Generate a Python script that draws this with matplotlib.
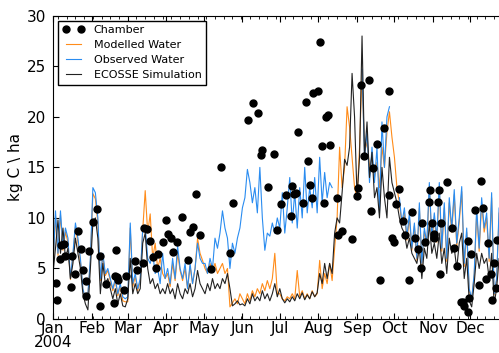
import numpy as np
import pandas as pd
import matplotlib
matplotlib.use("Agg")
import matplotlib.pyplot as plt
import matplotlib.dates as mdates

# model output every second day through 2004
dates = pd.date_range("2004-01-01", periods=183, freq="2D")

nan = np.nan

# ECOSSE simulation (kg C / ha)
ecosse = [
    # Jan
    4.5, 7.0, 9.8, 6.5, 9.0, 6.0, 7.0, 4.0, 5.5, 8.0, 6.5, 5.0, 2.5, 1.5, 0.9, 5.0,
    # Feb
    9.5, 10.0, 8.0, 2.5, 5.5, 3.5, 4.0, 3.0, 2.0, 3.0, 1.5, 2.5, 1.3, 1.2,
    # Mar
    2.0, 6.0, 2.5, 3.5, 2.5, 3.0, 7.5, 8.5, 5.0, 3.5, 4.0, 3.0, 3.5, 2.5, 3.0, 2.5,
    # Apr
    3.5, 2.5, 3.0, 2.0, 3.5, 2.5, 2.0, 3.0, 2.5, 3.5, 2.2, 3.0, 4.8, 3.5, 3.0,
    # May
    2.5, 3.5, 2.8, 4.0, 3.0, 3.5, 3.0, 4.0, 3.5, 4.5, 3.0, 1.3, 1.5, 1.8, 1.4,
    # Jun
    1.5, 1.3, 2.0, 1.5, 2.5, 1.8, 2.2, 1.8, 2.8, 2.0, 2.5, 1.8, 2.5, 3.5, 2.2,
    # Jul
    3.0, 2.0, 1.6, 2.0, 1.7, 2.2, 1.8, 2.5, 2.0, 2.6, 1.9, 2.4, 2.0, 2.7, 2.2, 2.6,
    # Aug
    4.5, 3.5, 5.5, 4.0, 5.5, 4.5, 8.5, 10.0, 9.5, 12.5, 15.8, 15.2, 17.0, 24.3, 20.0,
    # Sep
    12.0, 16.0, 28.0, 16.0, 19.5, 14.0, 16.5, 12.0, 13.0, 10.0, 15.0, 12.0, 10.0, 16.0, 13.5,
    # Oct
    12.5, 11.5, 10.0, 9.0, 8.5, 7.0, 8.0, 6.5, 6.0, 5.5, 7.0, 4.0, 7.0, 6.0, 9.5, 6.5,
    # Nov
    7.5, 6.0, 8.5, 5.5, 7.0, 4.5, 8.0, 6.5, 7.0, 5.0, 7.5, 8.5, 4.0, 6.0, 1.8,
    # Dec
    1.2, 3.5, 6.5, 5.0, 6.5, 5.5, 6.0, 4.0, 6.5, 1.5, 3.0, 6.0, 5.0, 6.5, 6.0,
]

# ECOSSE driven by modelled water table
modelled = [
    4.8, 10.2, 6.3, 10.3, 6.8, 8.6, 7.6, 3.9, 6.2, 9.1, 7.6, 5.7, 2.9, 1.9, 2.3, 5.7,
    12.4, 11.9, 9.5, 3.8, 6.2, 4.3, 4.8, 3.8, 2.8, 3.8, 2.3, 3.3, 1.8, 1.7,
    1.7, 9.0, 3.2, 4.2, 2.8, 3.8, 8.8, 12.7, 8.5, 10.4, 6.0, 7.5, 5.0, 6.0, 4.5, 4.0,
    4.5, 3.2, 5.5, 3.8, 6.5, 4.8, 3.8, 5.0, 3.0, 5.2, 3.5, 5.0, 8.0, 6.5, 5.8,
    5.0, 4.5, 5.5, 4.8, 5.5, 4.5, 5.0, 5.5, 4.5, 5.0, 1.2, 1.6, 2.0, 1.5, 2.5,
    2.0, 1.5, 2.5, 1.8, 2.8, 2.2, 3.0, 2.5, 3.5, 2.8, 3.8, 3.0, 4.0, 6.5, 2.5,
    2.5, 2.0, 1.8, 2.2, 2.0, 2.5, 2.0, 4.8, 2.2, 2.8, 2.0, 2.5, 2.0, 2.8, 2.2, 2.5,
    5.8, 3.0, 4.5, 3.5, 5.5, 3.8, 7.0, 10.0, 17.0, 13.0, 15.0, 21.0, 19.0, 16.0, 13.0,
    12.0, 17.0, 24.5, 16.5, 17.5, 15.0, 16.0, 14.0, 15.5, 13.0, 17.0, 15.0, 18.5, 20.5, 18.0,
    16.0, 13.0, 11.5, 9.3, 10.5, 7.8, 10.0, 6.8, 9.2, 5.8, 11.0, 5.3, 8.7, 7.3, 13.0, 7.8,
    10.0, 7.6, 13.0, 6.7, 11.0, 5.7, 11.5, 8.6, 12.3, 7.2, 9.6, 12.6, 5.2, 8.6, 2.8,
    1.9, 4.3, 10.5, 6.7, 11.5, 8.6, 10.0, 5.7, 12.0, 2.4, 3.8, 10.5, 7.2, 10.0, 9.0,
]

# ECOSSE driven by observed water table (gaps where no record)
observed = [
    5.0, 10.7, 6.5, 10.7, 7.0, 9.0, 8.0, 4.0, 6.5, 9.5, 8.0, 6.0, 3.0, 2.0, 2.5, 6.0,
    13.0, 12.5, 10.0, 4.0, 6.5, 4.5, 5.0, 4.0, 3.0, 4.0, 2.5, 3.5, 2.2, 2.0,
    2.2, 9.5, 3.5, 4.5, 3.0, 4.0, 9.0, 9.2, 6.0, 5.5, 6.5, 4.5, 5.0, 3.5, 6.5, 4.0,
    5.0, 3.5, 6.0, 4.0, 7.2, 5.0, 4.0, 5.5, 3.0, 5.5, 3.5, 5.0, 7.5, 6.0, 5.5,
    5.5, 4.5, 6.0, 5.0, 8.0, 7.0, 8.5, 10.7, 9.0, 8.0, 5.0, 7.5, 6.5, 8.0, 9.0,
    11.0, 12.0, 14.8, 13.5, 11.5, 13.0, 10.5, 15.0, 10.0, 6.8, 8.5, 8.2, 9.5, 8.5, 10.0,
    9.0, 12.5, 8.5, 11.0, 14.0, 9.5, 12.5, 9.0, 13.0, 10.0, 15.0, 10.5, 13.0, 11.0, 14.0, 10.5,
    16.0, 11.5, 14.5, 12.0, 13.5, 13.0, nan, nan, nan, nan, nan, nan, nan, nan, nan,
    nan, nan, 24.7, 16.0, 18.5, 13.5, 17.0, 13.5, 17.0, 10.5, 19.5, 15.0, 20.0, 21.0, nan,
    nan, nan, 12.0, 9.5, 11.0, 8.0, 10.5, 7.0, 9.5, 6.0, 11.5, 5.5, 9.0, 7.5, 13.5, 8.0,
    10.5, 8.0, 13.5, 7.0, 11.5, 6.0, 12.0, 9.0, 12.8, 7.5, 10.0, 13.1, 5.5, 9.0, 3.0,
    2.0, 4.5, 11.0, 7.0, 12.0, 9.0, 10.5, 6.0, 12.5, 2.5, 4.0, 11.0, 7.5, 10.5, 9.5,
]

# chamber measurements: day of year (0 = 1 Jan) and flux
chamber_day = [
    2.7, 3.2, 5.4, 6.2, 8.9, 9.9, 14.2, 15.3, 17.4, 20.4, 22.3, 24.2, 26.3, 26.3,
    29.0, 32.2, 35.4, 37.6, 38.1, 42.4, 49.1, 49.7, 50.5, 51.5, 51.8, 56.9, 58.5,
    65.8, 67.1, 71.9, 73.0, 75.2, 77.9, 80.0, 82.7, 84.6, 88.6, 90.5, 92.6, 94.5,
    96.6, 99.3, 103.4, 108.7, 110.3, 112.2, 114.6, 117.6, 126.7, 134.8, 141.7,
    144.4, 156.5, 160.5, 164.6, 166.7, 167.8, 172.6, 177.7, 179.6, 182.8, 186.8,
    190.9, 191.9, 193.3, 195.4, 196.5, 200.8, 202.7, 204.6, 205.9, 207.8, 208.9,
    212.6, 214.0, 216.1, 217.2, 219.0, 220.9, 222.0, 227.7, 229.0, 232.2, 239.7,
    244.3, 245.1, 247.5, 249.7, 253.7, 255.0, 256.9, 259.9, 262.6, 265.8, 269.3,
    269.8, 271.7, 273.8, 275.4, 277.9, 281.1, 282.4, 285.9, 287.8, 290.7, 292.6,
    295.3, 296.1, 298.5, 302.0, 302.8, 304.2, 305.5, 306.0, 309.3, 309.5, 310.9,
    311.4, 316.0, 320.0, 321.6, 324.0, 327.5, 328.9, 330.2, 332.9, 332.9, 334.2,
    335.6, 338.3, 341.5, 343.1, 345.0, 347.7, 349.0, 351.7, 352.5, 353.9, 356.5, 355.7,
]
chamber_flux = [
    3.6, 1.9, 5.9, 7.3, 7.4, 6.2, 3.2, 6.2, 4.5, 8.7, 6.9, 4.8, 3.8, 2.3,
    6.7, 9.6, 10.9, 6.2, 1.3, 3.5, 1.6, 4.3, 6.8, 4.2, 3.9, 2.9, 4.3,
    5.7, 4.8, 5.5, 9.0, 8.9, 7.7, 6.1, 5.0, 6.4, 7.6, 9.8, 8.4, 8.0,
    6.6, 7.6, 10.1, 5.8, 8.6, 9.1, 12.4, 8.3, 4.9, 15.0, 6.5,
    11.5, 19.7, 21.4, 20.4, 16.2, 16.7, 13.1, 16.3, 8.8, 11.4, 12.3,
    10.2, 13.2, 12.4, 12.5, 18.5, 11.5, 21.5, 15.6, 13.3, 12.0, 22.4,
    22.6, 27.4, 17.1, 11.5, 20.0, 20.2, 17.2, 12.0, 8.3, 8.7, 7.9,
    12.2, 13.0, 23.2, 16.1, 23.6, 10.7, 14.9, 17.3, 3.9, 18.9, 12.3,
    22.6, 8.0, 7.6, 11.4, 12.9, 9.7, 8.3, 3.9, 10.6, 8.0, 6.9,
    5.0, 9.5, 7.6, 11.6, 12.8, 9.5, 8.4, 8.0, 11.6, 12.8, 4.5,
    9.5, 13.6, 9.0, 7.0, 5.2, 1.7, 1.7, 1.3, 7.7, 0.7, 2.1,
    6.4, 10.8, 3.4, 13.7, 11.0, 4.0, 7.5, 4.5, 1.9, 5.5, 7.8, 3.1,
]
chamber_dates = pd.Timestamp("2004-01-01") + pd.to_timedelta(chamber_day, unit="D")

fig = plt.figure(figsize=(4.99, 3.53), dpi=100)
ax = fig.add_axes([0.1062, 0.0963, 0.914, 0.859])

ax.plot(chamber_dates, chamber_flux, "o", color="black", ms=5, zorder=5,
        label="Chamber")
ax.plot(dates, modelled, color="#ff8c1a", lw=0.8, label="Modelled Water")
ax.plot(dates, observed, color="#2a8cf0", lw=0.8, label="Observed Water")
ax.plot(dates, ecosse, color="#222222", lw=0.8, label="ECOSSE Simulation")

ax.set_xlim(pd.Timestamp("2004-01-01"), pd.Timestamp("2005-01-01"))
ax.set_ylim(0, 30)
ax.set_yticks(range(0, 31, 5))

months = pd.date_range("2004-01-01", periods=12, freq="MS")
ax.set_xticks(months)
labels = [m.strftime("%b") for m in months]
labels[0] = "Jan\n2004"
ax.set_xticklabels(labels)
ax.xaxis.set_minor_locator(mdates.WeekdayLocator(byweekday=mdates.MO))

ax.tick_params(which="both", direction="in", top=True, right=True,
               labelsize=11)
ax.tick_params(which="major", length=4)
ax.tick_params(which="minor", length=2)
ax.tick_params(axis="x", pad=1.5)
ax.tick_params(axis="y", pad=5)
for lab in ax.get_xticklabels():
    lab.set_linespacing(0.95)

ax.set_ylabel("kg C \\ ha", fontsize=11, labelpad=3)

leg = ax.legend(loc="upper left", numpoints=2, fontsize=8, fancybox=False,
                framealpha=1, edgecolor="black", borderaxespad=0.45,
                handlelength=2.0, labelspacing=0.45)
leg.get_frame().set_linewidth(1.0)

fig.savefig("out.png", dpi=100)
